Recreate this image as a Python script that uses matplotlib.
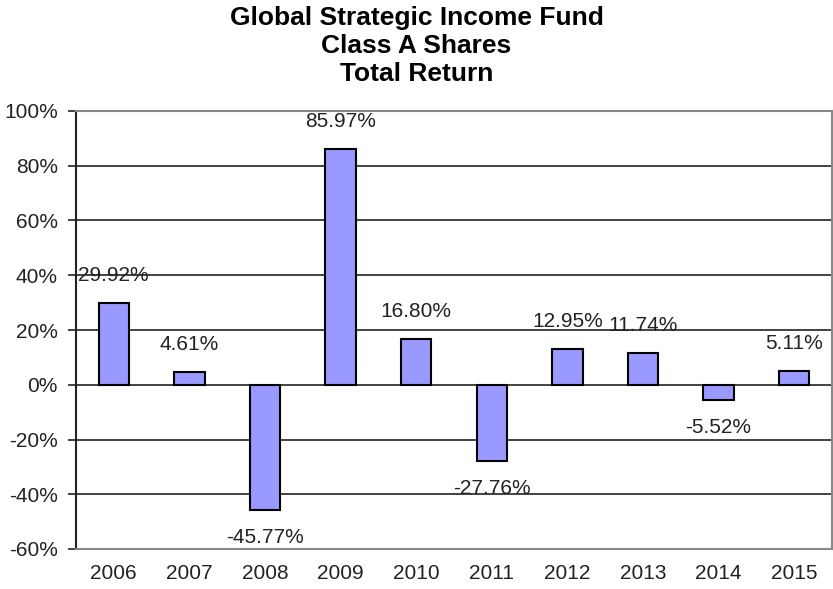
import matplotlib.pyplot as plt
from matplotlib.ticker import FuncFormatter

plt.rcParams['font.family'] = ['Liberation Sans', 'DejaVu Sans']

# ----------------------------------------------------
# Data
# ----------------------------------------------------
years = ['2006', '2007', '2008', '2009', '2010', '2011', '2012', '2013', '2014', '2015']
returns = [29.92, 4.61, -45.77, 85.97, 16.80, -27.76, 12.95, 11.74, -5.52, 5.11]
y_ticks = [-60, -40, -20, 0, 20, 40, 60, 80, 100]

title = "Global Strategic Income Fund\nClass A Shares\nTotal Return"

fig = plt.figure(figsize=(8.33, 5.89), dpi=100)
ax = fig.add_axes([76 / 833, 1 - 549 / 589, (832 - 76) / 833, (549 - 111) / 589])

x = range(len(years))
ax.bar(x, returns, width=0.4, color='#9999FF', edgecolor='black', linewidth=1.5, zorder=3)

# value labels above / below the bars
for i, v in enumerate(returns):
    off = 13 if v >= 0 else -13
    ax.annotate(f"{v:.2f}%", (i, v), xytext=(0, off), textcoords='offset points',
                ha='center', va='bottom' if v >= 0 else 'top', fontsize=15, color='#222222')

ax.set_xlim(-0.5, len(years) - 0.5)
ax.set_ylim(-60, 100)
ax.set_yticks(y_ticks)
ax.yaxis.set_major_formatter(FuncFormatter(lambda v, p: f"{v:.0f}%"))
ax.set_xticks(list(x))
ax.set_xticklabels(years)
ax.tick_params(axis='x', length=0, pad=11, labelsize=15, colors='#222222')
ax.tick_params(axis='y', length=6, width=1.2, pad=7, labelsize=15, colors='#222222')

# gridlines
ax.grid(axis='y', color='#222222', linewidth=1.2, zorder=0)
ax.set_axisbelow(True)

for s in ['top', 'right', 'bottom']:
    ax.spines[s].set_color('#888888')
    ax.spines[s].set_linewidth(1.5)
ax.spines['left'].set_color('#222222')
ax.spines['left'].set_linewidth(1.5)

fig.text(0.5, 1 - 6 / 589, title, ha='center', va='top', fontsize=19, fontweight='bold',
         linespacing=1.2)

fig.savefig('out.png', dpi=100)
